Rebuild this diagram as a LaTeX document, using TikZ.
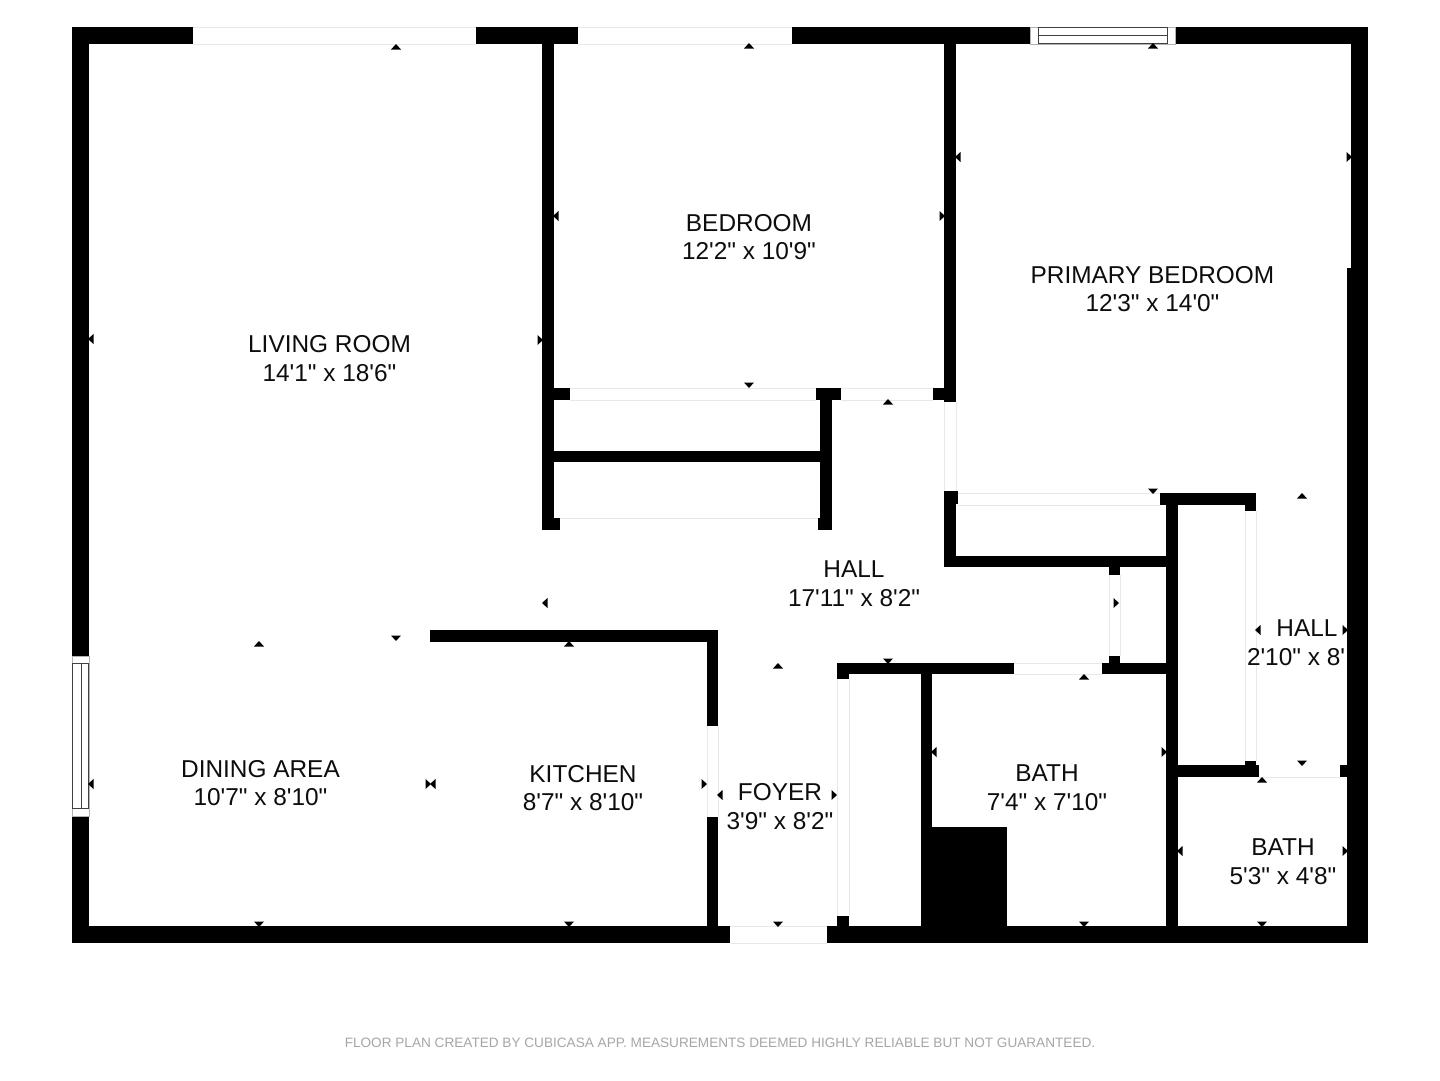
\documentclass[tikz,border=0pt]{standalone}
\usepackage{fontspec}
\newfontfamily\lab{Liberation Sans}
\newcommand{\wl}[4]{\fill[black] (#1,#2) rectangle (#3,#4);}
\newcommand{\opnh}[4]{\fill[white] (#1,#2) rectangle (#3,#4);\draw[openedge] (#1,#2) -- (#3,#2) (#1,#4) -- (#3,#4);}
\newcommand{\opnv}[4]{\fill[white] (#1,#2) rectangle (#3,#4);\draw[openedge] (#1,#2) -- (#1,#4) (#3,#2) -- (#3,#4);}
\newcommand{\tu}[2]{\fill[black] (#1-5,#2+2.5) -- (#1+5,#2+2.5) -- (#1,#2-3) -- cycle;}
\newcommand{\td}[2]{\fill[black] (#1-5,#2-2.5) -- (#1+5,#2-2.5) -- (#1,#2+3) -- cycle;}
\newcommand{\tl}[2]{\fill[black] (#1+2.5,#2-5) -- (#1+2.5,#2+5) -- (#1-3,#2) -- cycle;}
\newcommand{\tr}[2]{\fill[black] (#1-2.5,#2-5) -- (#1-2.5,#2+5) -- (#1+3,#2) -- cycle;}
\tikzset{
  openedge/.style={draw=black!9,line width=0.9pt},
  roomlabel/.style={font=\lab\fontsize{24.4}{28.6}\selectfont,text=black!95,inner sep=0pt,align=center,anchor=center},
  credit/.style={font=\lab\fontsize{13.6}{16}\selectfont,text=black!35,inner sep=0pt,anchor=center},
  frameline/.style={draw=black!75,line width=1pt}
}
\begin{document}
\begin{tikzpicture}[x=1pt,y=-1pt]
\useasboundingbox (0,0) rectangle (1440,1080);
\fill[white] (0,0) rectangle (1440,1080);
% outer walls
\wl{72}{27}{1368}{44}
\wl{72}{926}{1368}{943}
\wl{72}{27}{89}{943}
\wl{1351}{27}{1368}{943}
\wl{1347}{268}{1351}{926}
% inner walls
\wl{542}{44}{554}{530}
\wl{542}{388}{570}{400}
\wl{542}{518}{560}{530}
\wl{553}{451}{826}{462}
\wl{820}{388}{832}{530}
\wl{816}{388}{841}{400}
\wl{818}{518}{832}{530}
\wl{944}{44}{956}{402}
\wl{933}{388}{945}{400}
\wl{944}{491}{956}{567}
\wl{944}{491}{958}{504}
\wl{944}{556}{1178}{567}
\wl{1160}{493}{1256}{505}
\wl{1245}{505}{1256}{511}
\wl{1166}{493}{1178}{926}
\wl{1109}{567}{1120}{575}
\wl{1109}{656}{1120}{663}
\wl{837}{663}{1014}{674}
\wl{1102}{663}{1166}{674}
\wl{837}{674}{849}{679}
\wl{837}{916}{849}{926}
\wl{921}{674}{932}{926}
\wl{921}{827}{1007}{926}
\wl{1178}{765}{1259}{777}
\wl{1245}{761}{1256}{765}
\wl{1340}{765}{1351}{777}
\wl{430}{630}{718}{642}
\wl{707}{630}{718}{726}
\wl{707}{817}{718}{926}
% openings
\opnh{193}{27}{476}{44}
\opnh{578}{27}{792}{44}
\opnh{570}{388}{816}{400}
\opnh{841}{388}{933}{400}
\draw[openedge] (560,518) -- (818,518);
\opnv{944}{402}{956}{491}
\opnh{958}{493}{1160}{505}
\opnv{1109}{575}{1120}{656}
\opnh{1014}{663}{1102}{674}
\opnv{1245}{511}{1256}{761}
\opnv{837}{679}{849}{916}
\opnv{707}{726}{718}{817}
\opnh{730}{926}{827}{943}
\fill[white] (1259,765) rectangle (1340,777);
\draw[openedge] (1259,777) -- (1340,777);
% windows
\filldraw[fill=white,draw=black!30,line width=0.8pt] (1030,27) rectangle (1175,44);
\draw[frameline] (1038,27.5) rectangle (1167,43);
\draw[frameline] (1038,35) -- (1167,35);
\filldraw[fill=white,draw=black!30,line width=0.8pt] (72,656) rectangle (89,816);
\draw[frameline] (72.5,663) rectangle (88.5,808);
\draw[frameline] (81,663) -- (81,808);
% dimension ticks
\tu{396}{47}\tu{749}{46}\tu{1153}{46}
\tl{91}{339}\tr{540}{340}\tl{556}{216}\tr{942}{216}\tl{958}{157}\tr{1349}{157}
\td{749}{385}\tu{888}{402}\td{1153}{491}\tu{1302}{496}
\tl{545}{603}\tr{1116}{603}
\tu{259}{644}\td{396}{638}\tu{569}{644}\tu{778}{666}\td{888}{661}\tu{1084}{677}
\tl{1258}{630}\tr{1345}{630}
\tl{934}{752}\tr{1164}{752}\td{1302}{763}\tu{1262}{780}
\tl{1180}{851}\tr{1345}{851}
\td{1262}{924}\td{1084}{924}\td{778}{924}\td{259}{924}\td{569}{924}
\tl{91}{784}\tr{704}{784}\tr{428}{784}\tl{433}{784}
\tl{720}{795}\tr{834}{795}
% labels
\node[roomlabel] (living) at (329.5,358.5) {LIVING ROOM\\14'1" x 18'6"};
\node[roomlabel] (bedroom) at (749,237) {BEDROOM\\12'2" x 10'9"};
\node[roomlabel] (primary) at (1152.5,289) {PRIMARY BEDROOM\\12'3" x 14'0"};
\node[roomlabel] (hallmain) at (854,584) {HALL\\17'11" x 8'2"};
\node[roomlabel] (hallside) at (1307,628.5) {HALL};
\node[roomlabel] (hallsidedim) at (1296,657.5) {2'10" x 8'};
\node[roomlabel] (dining) at (260.5,783) {DINING AREA\\10'7" x 8'10"};
\node[roomlabel] (kitchen) at (583,788) {KITCHEN\\8'7" x 8'10"};
\node[roomlabel] (foyer) at (780,806.5) {FOYER\\3'9" x 8'2"};
\node[roomlabel] (bathmain) at (1047,788) {BATH\\7'4" x 7'10"};
\node[roomlabel] (bathsmall) at (1283,862) {BATH\\5'3" x 4'8"};
\node[credit] (note) at (720,1042.5) {FLOOR PLAN CREATED BY CUBICASA APP. MEASUREMENTS DEEMED HIGHLY RELIABLE BUT NOT GUARANTEED.};
\end{tikzpicture}
\end{document}
